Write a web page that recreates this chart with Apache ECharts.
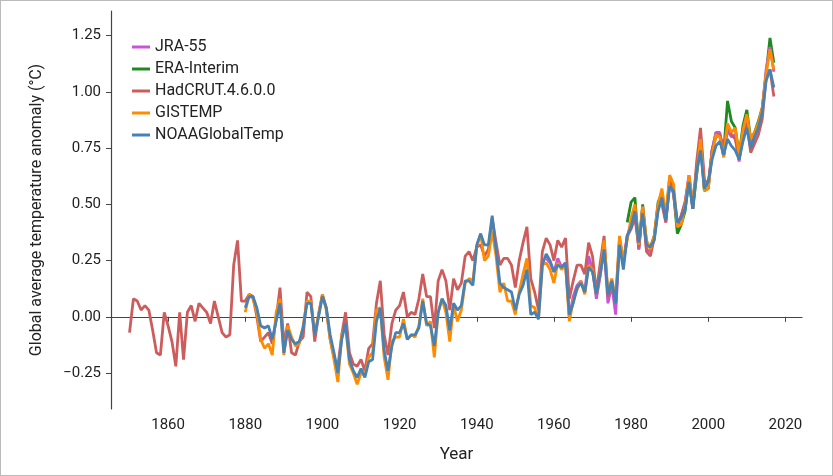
<!DOCTYPE html>
<html>
<head>
<meta charset="utf-8">
<script src="https://cdn.jsdelivr.net/npm/echarts@6/dist/echarts.min.js"></script>
<style>
html, body { margin: 0; padding: 0; background: #fff; }
#chart { width: 831px; height: 474px; border: 1px solid #bbb; }
</style>
</head>
<body>
<div id="chart"></div>
<script>
var hadYears = [];
for (var y = 1850; y <= 2017; y++) hadYears.push(y);

var hadcrut = [
-0.07,0.08,0.07,0.03,0.05,0.03,-0.06,-0.16,-0.17,0.02,
-0.04,-0.11,-0.22,0.02,-0.19,0.02,0.05,-0.02,0.06,0.04,
0.02,-0.03,0.07,0.00,-0.07,-0.09,-0.08,0.23,0.34,0.07,
0.07,0.10,0.09,0.00,-0.11,-0.09,-0.07,-0.12,-0.01,0.13,
-0.12,-0.03,-0.16,-0.17,-0.11,-0.09,0.11,0.09,-0.11,0.01,
0.10,0.04,-0.10,-0.18,-0.22,-0.08,0.02,-0.16,-0.21,-0.22,
-0.19,-0.24,-0.14,-0.12,0.06,0.16,-0.08,-0.17,-0.03,0.03,
0.05,0.11,0.00,0.02,0.01,0.08,0.19,0.09,0.09,-0.05,
0.16,0.21,0.16,0.03,0.17,0.12,0.15,0.27,0.29,0.25,
0.31,0.32,0.27,0.30,0.44,0.33,0.23,0.26,0.26,0.23,
0.13,0.25,0.33,0.40,0.17,0.11,0.03,0.29,0.35,0.32,
0.25,0.34,0.31,0.35,0.08,0.16,0.23,0.23,0.19,0.33,
0.27,0.11,0.24,0.36,0.09,0.15,0.06,0.35,0.24,0.36,
0.39,0.44,0.31,0.49,0.29,0.27,0.35,0.49,0.50,0.42,
0.60,0.55,0.41,0.45,0.51,0.62,0.48,0.69,0.84,0.61,
0.59,0.74,0.80,0.81,0.75,0.85,0.81,0.79,0.70,0.81,
0.86,0.73,0.77,0.81,0.88,1.06,1.10,0.98
];

var gisYears = [];
for (var g = 1880; g <= 2017; g++) gisYears.push(g);

var gistemp = [
0.02,0.10,0.08,0.02,-0.10,-0.14,-0.12,-0.17,0.02,0.08,
-0.17,-0.04,-0.09,-0.13,-0.12,-0.04,0.07,0.07,-0.08,0.01,
0.10,0.03,-0.10,-0.19,-0.29,-0.08,-0.04,-0.21,-0.25,-0.30,
-0.25,-0.26,-0.18,-0.16,0.03,0.04,-0.18,-0.28,-0.11,-0.09,
-0.09,-0.01,-0.10,-0.08,-0.09,-0.04,0.08,-0.04,-0.02,-0.18,
0.02,0.08,0.02,-0.11,0.05,-0.02,0.03,0.15,0.17,0.16,
0.31,0.37,0.25,0.27,0.38,0.27,0.11,0.15,0.07,0.07,
0.01,0.11,0.19,0.26,0.05,0.04,-0.01,0.23,0.24,0.21,
0.15,0.24,0.21,0.23,-0.02,0.07,0.12,0.16,0.10,0.23,
0.21,0.10,0.19,0.34,0.11,0.17,0.08,0.36,0.25,0.34,
0.44,0.50,0.32,0.49,0.34,0.30,0.36,0.50,0.57,0.45,
0.63,0.59,0.40,0.41,0.49,0.63,0.51,0.64,0.79,0.56,
0.57,0.72,0.81,0.80,0.71,0.86,0.82,0.84,0.72,0.83,
0.90,0.79,0.82,0.86,0.93,1.08,1.19,1.10
];

var noaa = [
0.04,0.09,0.09,0.04,-0.04,-0.05,-0.04,-0.10,-0.02,0.06,
-0.16,-0.06,-0.10,-0.12,-0.11,-0.05,0.06,0.06,-0.08,0.00,
0.09,0.04,-0.08,-0.16,-0.25,-0.10,-0.03,-0.19,-0.24,-0.27,
-0.23,-0.27,-0.20,-0.19,-0.02,0.04,-0.15,-0.24,-0.13,-0.07,
-0.07,-0.03,-0.10,-0.08,-0.08,-0.05,0.07,-0.03,-0.04,-0.13,
0.02,0.08,0.05,-0.06,0.06,0.03,0.05,0.16,0.16,0.14,
0.32,0.37,0.32,0.32,0.45,0.30,0.15,0.13,0.12,0.11,
0.03,0.10,0.14,0.21,0.01,0.02,-0.01,0.23,0.28,0.25,
0.20,0.23,0.22,0.24,0.01,0.06,0.13,0.15,0.11,0.22,
0.20,0.10,0.19,0.30,0.10,0.16,0.06,0.32,0.21,0.36,
0.40,0.47,0.33,0.46,0.32,0.31,0.34,0.47,0.53,0.43,
0.58,0.56,0.42,0.44,0.48,0.60,0.48,0.65,0.74,0.57,
0.60,0.70,0.76,0.78,0.72,0.79,0.76,0.74,0.70,0.78,
0.84,0.75,0.80,0.84,0.91,1.05,1.10,1.02
];

var jraYears = [];
for (var j = 1958; j <= 2017; j++) jraYears.push(j);

var jra = [
0.26,0.24,0.20,0.26,0.22,0.24,0.00,0.09,0.14,0.16,
0.11,0.27,0.21,0.08,0.18,0.31,0.06,0.14,0.01,0.34,
0.24,0.36,0.41,0.47,0.30,0.48,0.30,0.29,0.35,0.49,
0.53,0.42,0.59,0.55,0.40,0.45,0.51,0.63,0.50,0.66,
0.80,0.59,0.58,0.74,0.82,0.82,0.71,0.83,0.80,0.81,
0.69,0.81,0.88,0.76,0.81,0.85,0.92,1.10,1.20,1.09
];

var eraYears = [];
for (var e = 1979; e <= 2017; e++) eraYears.push(e);

var era = [
0.42,0.51,0.53,0.30,0.50,0.33,0.31,0.36,0.51,0.55,
0.44,0.62,0.55,0.37,0.41,0.47,0.61,0.48,0.63,0.77,
0.56,0.57,0.74,0.82,0.81,0.73,0.96,0.87,0.84,0.72,
0.85,0.92,0.79,0.82,0.87,0.93,1.08,1.24,1.13
];

var xTicks = [1860, 1880, 1900, 1920, 1940, 1960, 1980, 2000, 2020];
var yTicks = [-0.25, 0, 0.25, 0.5, 0.75, 1.0, 1.25];

function pairs(xs, ys) {
    return xs.map(function (x, i) { return [x, ys[i]]; });
}

function line(name, xs, ys, color) {
    return {
        name: name,
        type: 'line',
        data: pairs(xs, ys),
        symbol: 'none',
        lineStyle: { width: 2.8, color: color },
        itemStyle: { color: color }
    };
}

var myChart = echarts.init(document.getElementById('chart'));
myChart.setOption({
    animation: false,
    textStyle: { fontFamily: 'Roboto, "Liberation Sans", sans-serif' },
    grid: { left: 110, right: 30, top: 10, bottom: 66 },
    legend: {
        orient: 'vertical',
        left: 126,
        top: 33,
        itemWidth: 18,
        itemHeight: 3,
        itemGap: 6,
        icon: 'rect',
        textStyle: { fontSize: 16, color: '#222' },
        data: ['JRA-55', 'ERA-Interim', 'HadCRUT.4.6.0.0', 'GISTEMP', 'NOAAGlobalTemp']
    },
    xAxis: {
        type: 'value',
        min: 1845.2,
        max: 2024.3,
        name: 'Year',
        nameLocation: 'middle',
        nameGap: 37,
        nameTextStyle: { fontSize: 17, color: '#222' },
        splitLine: { show: false },
        axisLine: { lineStyle: { color: '#444', width: 1.2 } },
        axisTick: { customValues: xTicks, length: 5, lineStyle: { color: '#444' } },
        axisLabel: {
            customValues: xTicks, fontSize: 15, color: '#222', margin: 9,
            formatter: function (v) { return String(v); }
        }
    },
    yAxis: {
        type: 'value',
        min: -0.41,
        max: 1.36,
        name: 'Global average temperature anomaly (°C)',
        nameLocation: 'middle',
        nameGap: 66,
        nameTextStyle: { fontSize: 16, color: '#222' },
        splitLine: { show: false },
        axisLine: { show: true, lineStyle: { color: '#444', width: 1.2 } },
        axisTick: { show: true, customValues: yTicks, length: 5, lineStyle: { color: '#444' } },
        axisLabel: {
            customValues: yTicks, fontSize: 15, color: '#222', margin: 10,
            formatter: function (v) { return v.toFixed(2).replace('-', '\u2212'); }
        }
    },
    series: [
        line('ERA-Interim', eraYears, era, '#1f8a1f'),
        line('JRA-55', jraYears, jra, '#c855d6'),
        line('HadCRUT.4.6.0.0', hadYears, hadcrut, '#cd5c5c'),
        line('GISTEMP', gisYears, gistemp, '#ff8c00'),
        line('NOAAGlobalTemp', gisYears, noaa, '#4682b4')
    ]
});
</script>
</body>
</html>
